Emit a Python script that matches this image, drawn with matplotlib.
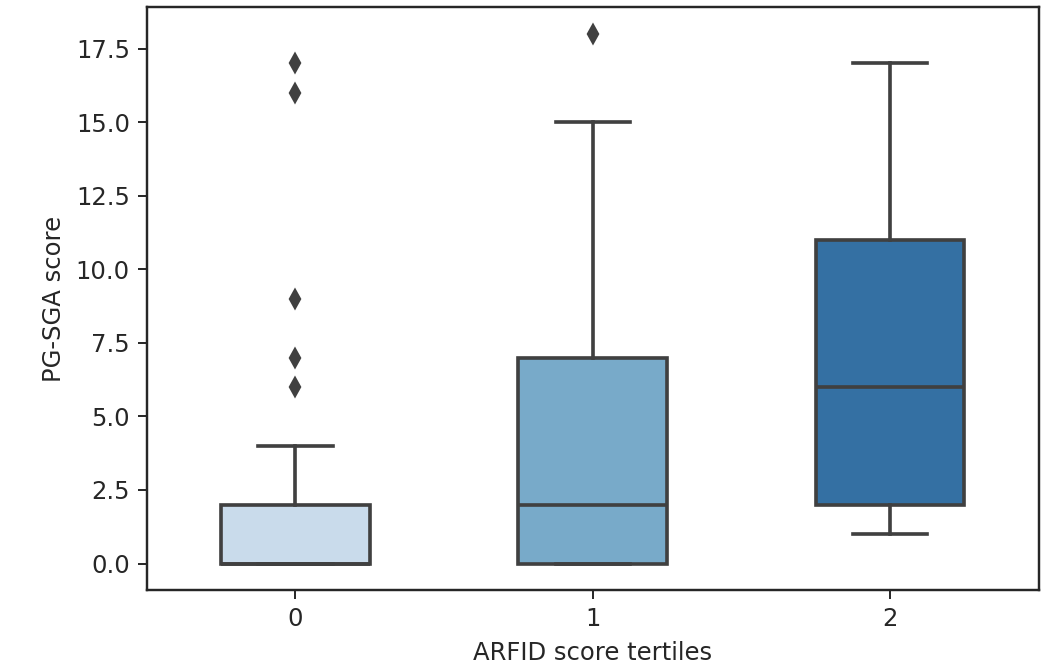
import matplotlib
matplotlib.use("Agg")
import matplotlib.pyplot as plt

categories = ["0", "1", "2"]
q1 = [0, 0, 2]
medians = [0, 2, 6]
q3 = [2, 7, 11]
whislo = [0, 0, 1]
whishi = [4, 15, 17]
fliers = [[6, 7, 9, 16, 17], [18], []]

box_colors = ["#c9dbeb", "#78aac9", "#3470a3"]
gray = "#404040"

fig = plt.figure(figsize=(1049 / 175, 672 / 175), dpi=175)
ax = fig.add_axes([0.140, 0.122, 0.850, 0.867])

stats = []
for i, c in enumerate(categories):
    stats.append(dict(label=c, q1=q1[i], med=medians[i], q3=q3[i],
                      whislo=whislo[i], whishi=whishi[i], fliers=fliers[i]))

bp = ax.bxp(stats, positions=range(len(categories)), widths=0.5,
            patch_artist=True, capwidths=0.25,
            boxprops=dict(edgecolor=gray, linewidth=1.5),
            medianprops=dict(color=gray, linewidth=1.5),
            whiskerprops=dict(color=gray, linewidth=1.5),
            capprops=dict(color=gray, linewidth=1.5),
            flierprops=dict(marker="d", markerfacecolor=gray,
                            markeredgecolor=gray, markersize=5))
for patch, col in zip(bp["boxes"], box_colors):
    patch.set_facecolor(col)

ax.set_xlim(-0.5, 2.5)
ax.set_ylim(-0.9, 18.9)
ax.set_yticks([0, 2.5, 5, 7.5, 10, 12.5, 15, 17.5])
ax.set_xticks(range(len(categories)))
ax.set_xticklabels(categories)
ax.set_xlabel("ARFID score tertiles", fontsize=10, color="#262626")
ax.set_ylabel("PG-SGA score", fontsize=10, color="#262626")
ax.tick_params(labelsize=10, colors="#262626")
for s in ax.spines.values():
    s.set_color("#262626")
    s.set_linewidth(1.0)

fig.savefig("out.png", dpi=175)
